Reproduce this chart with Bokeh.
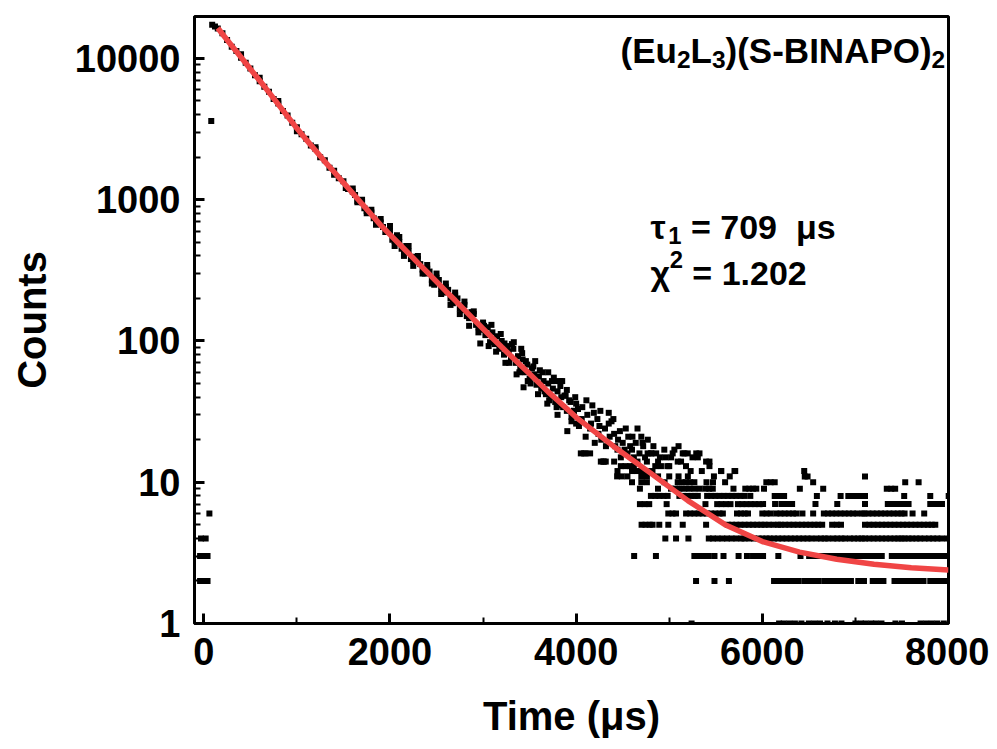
from bokeh.plotting import figure
from bokeh.models import FixedTicker, PrintfTickFormatter, Label, Range1d
from bokeh.embed import file_html
from bokeh.resources import INLINE

# ---------------- data ----------------
# pre-pulse background points near t = 0
pre_t = [-40, 0, 40, -40, 0, 40, -30, 20, 60, 80]
pre_counts = [2, 2, 2, 3, 3, 3, 4, 4, 6, 3600]

# main decay band (time in us, counts)
early_t = [90, 120, 150, 200, 250, 300, 350, 400, 450, 500, 550, 600, 650, 700, 750, 800,
           850, 900, 950, 1000, 1050, 1100, 1150, 1200, 1250, 1300, 1350, 1400, 1450, 1500,
           1550, 1600, 1650, 1700, 1750, 1800, 1850, 1900, 1950, 2000, 2050, 2100, 2150, 2200,
           2250, 2300, 2350, 2400, 2450, 2500, 2550, 2600, 2650, 2700, 2750, 2800, 2850, 2900,
           2950, 3000]
early_counts = [17300, 16800, 16300, 15100, 13500, 12100, 11300, 10100, 9300, 8500, 7600, 6900,
                6300, 5800, 5150, 4800, 4250, 3950, 3500, 3250, 2900, 2700, 2420, 2280, 2000,
                1900, 1680, 1600, 1420, 1350, 1190, 1140, 980, 960, 830, 810, 700, 690, 590, 600,
                510, 500, 440, 430, 370, 380, 320, 325, 270, 280, 235, 240, 200, 210, 170, 180,
                145, 155, 125, 135]

band_t = [1525, 1625, 1725, 1825, 1925, 2025, 2075, 2125, 2175, 2225, 2275, 2325, 2375, 2425,
          2475, 2525, 2575, 2625, 2675, 2725, 2775, 2825, 2875, 2925, 2975, 2970,
          400, 600, 800, 1000, 1200, 1400, 1600, 1650, 1700, 1750, 1800, 1850, 1900, 2000,
          2050, 2100, 2150, 2200, 2250, 2300, 2350, 2400, 2450, 2500, 2550, 2600, 2650, 2700,
          2750, 2800, 2850, 2900, 2950]
band_counts = [1210, 1080, 870, 740, 640, 520, 560, 450, 470, 380, 395, 350, 300, 310, 250, 270,
               220, 230, 185, 200, 165, 150, 160, 130, 120, 96,
               10700, 7300, 5000, 3050, 2350, 1500, 1200, 960, 1000, 800, 850, 665, 730, 650,
               470, 545, 400, 470, 340, 400, 300, 345, 255, 300, 215, 255, 180, 220,
               155, 190, 128, 162, 115]

mid_t = [3025, 3050, 3075, 3100, 3125, 3150, 3175, 3200, 3225, 3250, 3275, 3300, 3325, 3350,
         3375, 3400, 3425, 3450, 3475, 3500, 3525, 3550, 3575, 3600, 3625, 3650, 3675, 3700,
         3725, 3750, 3775, 3800, 3825, 3850, 3875, 3900, 3925, 3950, 3975, 4000,
         3240, 3260, 3310, 3360, 3420, 3435, 3480, 3540, 3590, 3640, 3690, 3740, 3779, 3800,
         3830,
         3010, 3060, 3090, 3140, 3190, 3230, 3280, 3330, 3390, 3410, 3460, 3510, 3560, 3610,
         3660, 3700, 3710, 3760, 3790, 3840, 3860, 3900, 3940, 3990]
mid_counts = [110, 125, 98, 115, 95, 108, 88, 100, 80, 92, 84, 76, 88, 70, 78, 64, 74, 60, 68,
              54, 64, 58, 49, 56, 46, 52, 42, 50, 40, 46, 37, 44, 35, 52, 41, 32, 38, 29, 32, 26,
              70, 89, 95, 58, 82, 47, 52, 66, 42, 60, 36, 52, 52, 30, 48,
              128, 92, 130, 84, 112, 96, 70, 98, 60, 88, 72, 50, 72, 62,
              44, 60, 38, 55, 34, 40, 34, 45, 37, 40]

late_t = [3833, 3887, 3905, 3977, 4066, 4102, 4174, 4228, 4350, 4350, 4408, 4533, 4659, 4605,
          4713, 4084, 4300, 4444, 4551, 4659, 4803, 4947, 5055, 5163, 5307, 5432, 5558, 5701,
          4911, 4444, 4551, 3950, 4000, 4030, 4120, 4150, 4200, 4250, 4270, 4320, 4380, 4450,
          4480, 4500, 4580, 4620, 4700, 4740, 4760, 4850, 4880, 4980,
          4050, 4100, 4150, 4290, 4440, 4490, 4265, 4318, 4408, 5091, 5127, 5396, 5432,
          4768, 4810, 4860, 5037, 5145, 5199, 5290, 5325, 5250, 5000,
          4020, 4060, 4110, 4160, 4190, 4240, 4260, 4310, 4360, 4400, 4420, 4470, 4520, 4560,
          4600, 4640, 4680, 4720, 4770, 4830, 4900, 4960, 5020, 5100, 5180, 5230, 5350, 5480,
          5600, 5650,
          4480, 4530, 4580, 4620, 4600, 4650, 4700, 4760, 4820, 4700, 4760, 4880, 5000, 5100,
          5200, 4600, 4700, 4760, 4950, 5400, 5470]
late_counts = [52, 41, 23, 32, 34, 21, 35, 28, 31, 26, 22, 24, 24, 21, 19, 16, 14, 17, 16, 14,
               16, 17, 17, 16, 15, 13, 12, 12, 13, 12, 11, 27, 36, 25, 30, 24, 19, 25, 20, 18, 27,
               20, 15, 19, 18, 15, 21, 15, 14, 13, 14, 13,
               16, 16, 16, 14, 11, 11, 14, 14, 14, 14, 14, 14, 14,
               16, 16, 16, 16, 16, 16, 16, 16, 15, 13,
               33, 28, 38, 26, 31, 22, 32, 24, 21, 28, 18, 23, 17, 21,
               17, 19, 16, 18, 20, 18, 15, 15, 15, 18, 13, 12, 12, 11,
               10, 11,
               13, 13, 13, 13, 12, 12, 12, 12, 12, 11, 11, 11, 11, 11,
               11, 10, 10, 10, 10, 10, 10]

# tail: integer count levels
t_c1 = [5240, 6180, 6230, 6290, 6350, 6420, 6500, 6560, 6620, 6700, 6780, 6850, 7000, 7060,
        7110, 7170, 7220, 7280, 7430, 7500, 7700, 7760, 7820, 7880, 7950]
t_c2 = [5288, 5486, 5641, 6126, 6170, 6215, 6260, 6300, 6345, 6385, 6450, 6500, 6555, 6607,
        6672, 6725, 6780, 6827, 6870, 6910, 6952, 7031, 7092, 7186, 7230, 7270, 7301, 7420,
        7460, 7500, 7542, 7588, 7642, 7685, 7732, 7804, 7865, 7912, 7955, 8002]
t_c3 = [4623, 4857, 5270, 5320, 5370, 5425, 5486, 5583, 5745, 5835, 5900, 5955, 6008, 6172,
        6410, 6503, 6550, 6600, 6650, 6700, 6750, 6809, 6852, 6900, 6950, 7000, 7050, 7100,
        7150, 7200, 7245, 7283, 7391, 7440, 7490, 7540, 7590, 7625, 7671, 7720, 7770, 7820,
        7870, 7920, 7965, 8002]
t_c4 = [4958, 5073, 5206, 5425, 5470, 5520, 5570, 5620, 5670, 5720, 5774, 5809, 5860, 5910,
        5960, 6000, 6043, 6079, 6125, 6170, 6215, 6260, 6305, 6350, 6395, 6440, 6485, 6528,
        6582, 6630, 6670, 6708, 6762, 6805, 6850, 6887, 6941, 6985, 7030, 7068, 7103, 7150,
        7195, 7240, 7285, 7330, 7375, 7420, 7460, 7496, 7528, 7570, 7610, 7655, 7696, 7743,
        7790, 7835, 7880, 7925, 7984]
t_c5 = [4703, 4745, 4790, 4821, 4893, 4990, 5145, 5396, 5630, 5675, 5720, 5765, 5810, 5855,
        5900, 5945, 5989, 6025, 6070, 6120, 6169, 6198, 6245, 6290, 6335, 6380, 6425, 6470,
        6515, 6560, 6600, 6643, 6750, 6800, 6845, 7103, 7150, 7195, 7240, 7285, 7330, 7375,
        7420, 7465, 7510, 7555, 7600, 7645, 7690, 7735, 7780, 7820, 7858]
t_c6 = [4990, 5035, 5073, 5181, 5225, 5270, 5315, 5360, 5405, 5450, 5495, 5540, 5576, 5728,
        5770, 5810, 5846, 6000, 6045, 6090, 6151, 6195, 6240, 6285, 6330, 6367, 6431, 6546,
        6661, 6705, 6750, 6795, 6840, 6885, 6930, 6975, 7020, 7075, 7097, 7140, 7185, 7230,
        7275, 7320, 7365, 7410, 7455, 7495, 7528, 7614, 7739]
t_c7 = [4685, 4735, 4785, 4972, 5389, 5515, 5560, 5610, 5658, 5738, 5785, 5830, 5875, 5920,
        5965, 6008, 6137, 6205, 6250, 6290, 6320, 6571, 6805, 7103, 7348, 7395, 7440, 7485,
        7530, 7571, 7804, 7850, 7890, 7930]
t_c8 = [4803, 4850, 4895, 4940, 4983, 5109, 5150, 5195, 5240, 5275, 5307, 5407, 5450, 5495,
        5540, 5585, 5630, 5675, 5720, 5765, 5809, 5871, 6133, 6180, 6234, 6586, 6841, 6924,
        6970, 7015, 7060, 7103, 7524, 7804, 8002]
t_c9 = [4685, 4879, 5019, 5065, 5109, 5162, 5215, 5270, 5328, 5389, 5430, 5468, 5690, 5817,
        5860, 5900, 5935, 6018, 6403, 6654, 7337, 7385, 7427]
t_c10 = [5091, 5135, 5180, 5225, 5270, 6043, 6090, 6133, 6546, 7535, 7679]
t_c11 = [6456, 6486, 7103]
t_c12 = [5558, 5709, 6450]

# red fitted curve
fit_t = [150, 200, 300, 400, 500, 600, 700, 800, 900, 1000, 1100, 1200, 1300, 1400, 1500, 1600,
         1700, 1800, 1900, 2000, 2100, 2200, 2300, 2400, 2500, 2600, 2700, 2800, 2900, 3000,
         3100, 3200, 3300, 3400, 3500, 3600, 3700, 3800, 3900, 4000, 4400, 4800, 5200, 5600,
         6000, 6400, 6800, 7200, 7600, 8000]
fit_counts = [16400, 14900, 12300, 10200, 8410, 6970, 5750, 4730, 3890, 3200, 2660, 2230, 1860,
              1570, 1320, 1110, 933, 785, 661, 566, 486, 417, 357, 307, 263, 225, 194, 166, 142,
              122, 105, 90.6, 78.2, 67.6, 58.5, 50.5, 43.6, 38.0, 33.1, 28.8, 18.0, 11.6, 7.41,
              5.01, 3.80, 3.20, 2.85, 2.63, 2.48, 2.39]

x_ticks = [0, 2000, 4000, 6000, 8000]
x_minor = [1000, 3000, 5000, 7000]
y_ticks = [1, 10, 100, 1000, 10000]
y_minor = [m * d for d in (1, 10, 100, 1000) for m in range(2, 10)]

# ---------------- assemble scatter ----------------
sx = pre_t + early_t + band_t + mid_t + late_t
sy = pre_counts + early_counts + band_counts + mid_counts + late_counts
for lvl, ts in [(1, t_c1), (2, t_c2), (3, t_c3), (4, t_c4), (5, t_c5), (6, t_c6), (7, t_c7),
                (8, t_c8), (9, t_c9), (10, t_c10), (11, t_c11), (12, t_c12)]:
    sx += ts
    sy += [lvl] * len(ts)

FONT = "Liberation Sans"

p = figure(width=989, height=749, y_axis_type="log",
           x_range=Range1d(-100, 8000), y_range=Range1d(1, 19800),
           output_backend="svg", toolbar_location=None,
           min_border_left=194, min_border_right=41, min_border_top=16, min_border_bottom=126)

p.background_fill_color = "white"
p.border_fill_color = "white"
p.outline_line_color = "black"
p.outline_line_width = 3
p.xgrid.visible = False
p.ygrid.visible = False

p.scatter(sx, sy, marker="square", size=6, fill_color="black", line_color="black", line_width=0)
p.line(fit_t, fit_counts, line_color="#F04545", line_width=5.5)

for ax in (p.xaxis[0], p.yaxis[0]):
    ax.axis_line_width = 3
    ax.axis_line_color = "black"
    ax.major_tick_in = 10
    ax.major_tick_out = 0
    ax.minor_tick_in = 6
    ax.minor_tick_out = 0
    ax.major_tick_line_width = 3
    ax.minor_tick_line_width = 2
    ax.major_label_text_font = FONT
    ax.major_label_text_font_style = "bold"
    ax.major_label_text_font_size = "38px"
    ax.major_label_text_color = "black"
    ax.axis_label_text_font = FONT
    ax.axis_label_text_font_style = "bold"
    ax.axis_label_text_font_size = "40px"
    ax.axis_label_text_color = "black"
    ax.formatter = PrintfTickFormatter(format="%d")

p.xaxis.ticker = FixedTicker(ticks=x_ticks, minor_ticks=x_minor)
p.yaxis.ticker = FixedTicker(ticks=y_ticks, minor_ticks=y_minor)
p.xaxis.axis_label = "Time (μs)"
p.yaxis.axis_label = "Counts"
p.xaxis.major_label_standoff = 14
p.yaxis.major_label_standoff = 14
p.xaxis.axis_label_standoff = 26
p.yaxis.axis_label_standoff = 18

# ---------------- rich text annotations ----------------
NB = "\u00a0"
WIDTH = {" ": 278, NB: 278, "(": 333, ")": 333, "-": 333, ".": 278, "=": 584, "A": 722,
         "B": 722, "E": 667, "I": 278, "L": 611, "N": 722, "O": 778, "P": 667, "S": 667,
         "s": 556, "u": 611, "μ": 611, "τ": 520, "χ": 560}


def tw(s, size):
    return sum(WIDTH.get(c, 556) for c in s) / 1000.0 * size


def rich(x, y, pieces, size, align="left"):
    sub = size * 0.70
    widths = [tw(t, size if k == "n" else sub) for t, k in pieces]
    off = -sum(widths) if align == "right" else 0
    for (t, k), w in zip(pieces, widths):
        fs = size if k == "n" else sub
        dy = 0 if k == "n" else (-size * 0.24 if k == "sub" else size * 0.38)
        p.add_layout(Label(x=x, y=y, x_offset=off, y_offset=dy, text=t,
                           text_font=FONT, text_font_style="bold",
                           text_font_size=f"{fs:.1f}px", text_color="black",
                           text_baseline="alphabetic", text_align="left"))
        off += w


rich(7965, 11300, [("(Eu", "n"), ("2", "sub"), ("L", "n"), ("3", "sub"),
                   (")(S-BINAPO)", "n"), ("2", "sub")], 35, align="right")
rich(4800, 640, [("τ", "n"), ("1", "sub"), (NB + "=" + NB + "709" + NB + NB + "μs", "n")], 34)
rich(4800, 305, [("χ", "n"), ("2", "sup"), (NB + "=" + NB + "1.202", "n")], 34)

open("out.html", "w").write(file_html(p, INLINE))
